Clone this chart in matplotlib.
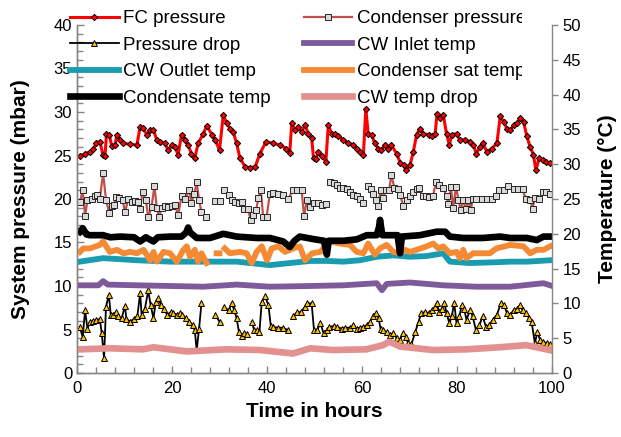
import numpy as np
import matplotlib
matplotlib.use("Agg")
import matplotlib.pyplot as plt
from matplotlib.ticker import MultipleLocator
from matplotlib.transforms import Bbox, TransformedBbox

plt.rcParams['font.family'] = ['Liberation Sans', 'DejaVu Sans']

# ---------------- data ----------------
fc_hours = [0.6,1.7,2.7,3.4,4.0,4.8,5.5,5.9,6.2,6.8,
            7.3,8.0,8.4,9.1,9.7,11.2,12.6,13.3,13.8,14.7,
            15.4,16.1,16.8,17.5,18.5,19.2,19.9,20.6,21.3,22.0,
            22.7,23.4,24.1,24.8,25.5,26.6,27.3,28.4,29.1,30.0,
            30.8,31.5,32.2,32.9,33.6,34.3,35.4,36.4,37.5,38.5,
            39.8,41.3,42.7,44.1,44.8,45.2,45.9,46.6,47.3,48.0,
            48.7,49.4,49.8,50.3,50.8,51.5,52.4,52.9,53.6,54.3,
            55.0,56.1,57.1,58.2,58.9,59.6,60.3,60.8,61.3,62.0,
            62.7,63.4,64.1,64.8,65.5,66.2,67.3,68.1,68.8,69.3,
            70.1,70.8,71.5,72.2,72.9,74.0,74.7,75.4,75.8,76.4,
            77.1,77.8,78.4,78.9,79.9,80.6,81.7,82.7,83.4,84.1,
            84.8,85.5,86.3,87.3,88.4,89.1,89.8,90.5,91.2,91.9,
            92.6,93.3,94.0,94.7,95.4,96.1,96.6,97.3,98.0,98.7,
            99.6]
fc_pressure = [24.9,25.2,25.4,25.7,26.4,26.6,25.0,24.9,27.5,27.4,
               26.1,26.2,27.4,26.8,26.4,26.3,26.2,28.3,28.2,27.4,
               27.9,27.9,26.8,26.6,26.4,25.6,26.2,26.0,25.1,27.4,
               26.8,26.2,25.2,24.7,26.4,27.5,28.4,27.4,26.8,25.6,
               29.7,28.7,28.1,27.7,26.4,24.7,23.7,23.6,23.7,25.2,
               26.6,26.4,26.2,25.8,25.3,28.7,27.9,28.3,27.7,28.5,
               27.5,27.0,24.7,24.6,25.4,24.9,24.3,28.5,27.5,27.5,
               27.2,26.8,26.4,26.2,25.8,25.4,25.1,30.4,27.5,27.4,
               26.4,25.8,25.6,26.2,25.8,26.2,25.2,24.1,23.9,23.3,
               23.9,25.4,27.4,28.1,27.5,27.4,27.2,27.5,29.8,29.3,
               29.7,27.5,26.2,27.4,27.5,26.8,26.8,26.6,26.2,25.2,
               26.0,26.4,25.4,25.8,26.4,29.5,28.9,28.1,27.9,28.5,
               28.7,29.3,28.9,27.2,26.0,25.1,23.3,24.7,24.5,24.3,
               24.1]

cond_hours = [0.6,1.2,1.7,2.2,3.1,3.8,4.3,4.8,5.5,6.1,
              6.8,7.3,7.8,8.2,8.9,9.6,10.1,10.8,11.5,12.2,
              12.9,13.3,13.8,14.5,15.0,15.7,16.3,16.8,17.3,17.8,
              18.5,19.2,19.9,20.6,21.3,22.0,22.7,23.6,24.1,24.7,
              25.2,25.7,26.2,27.2,28.2,29.1,30.0,30.5,31.0,31.9,
              32.6,33.3,34.0,34.7,35.2,35.9,36.6,37.1,37.7,38.2,
              38.7,39.2,39.9,40.6,41.3,42.4,43.4,44.5,45.4,46.4,
              47.3,47.8,48.4,49.1,49.8,50.8,51.5,52.4,52.9,53.3,
              54.0,54.7,55.4,56.1,56.8,57.5,58.2,58.9,59.6,60.3,
              60.8,61.3,61.9,62.4,62.9,63.4,63.9,64.4,65.1,65.7,
              66.2,66.8,67.5,68.0,68.7,69.4,70.1,70.8,71.5,72.1,
              72.8,73.5,74.2,74.9,75.6,76.3,77.1,77.8,78.2,78.7,
              79.2,79.8,80.3,80.8,81.3,81.9,82.4,82.9,83.3,84.1,
              85.2,86.3,87.3,88.2,88.9,89.8,90.8,91.9,92.9,93.8,
              94.5,95.4,95.9,96.4,97.3,98.0,98.8,99.6]
cond_pressure = [19.6,21.0,18.0,19.9,20.0,20.3,20.5,20.0,23.0,19.9,
                 18.4,19.2,19.3,20.2,20.1,19.9,18.5,20.0,19.7,19.8,
                 19.7,18.9,20.8,19.9,17.9,19.1,21.5,19.0,17.9,19.0,
                 19.2,19.1,19.2,19.3,18.2,20.3,20.0,21.0,19.5,20.6,
                 21.9,19.9,18.5,17.9,None,19.8,19.8,None,21.0,20.5,
                 19.9,19.7,19.5,19.7,18.9,18.9,17.6,18.2,18.7,20.1,
                 21.0,17.9,17.9,20.6,20.7,20.6,20.5,20.0,21.0,21.0,
                 21.0,18.0,19.9,19.1,19.5,19.5,19.3,19.4,None,22.0,
                 21.8,21.6,21.3,21.3,21.1,20.8,20.5,20.3,20.0,19.5,
                 None,21.5,21.1,20.6,19.9,19.2,21.0,20.1,21.0,21.0,
                 22.8,21.3,21.2,20.5,19.2,19.9,20.3,20.8,21.2,21.3,
                 20.3,20.3,20.2,20.3,21.9,21.6,21.3,20.3,19.4,21.4,
                 19.0,21.4,19.9,18.7,19.9,18.8,19.9,18.7,20.0,20.0,
                 20.0,20.0,20.0,20.3,21.0,21.0,21.5,21.2,21.1,21.1,
                 20.0,19.9,18.9,20.1,20.0,20.8,20.8,20.6]

dp_hours = [0.6,1.2,1.7,2.2,2.7,3.4,4.1,4.8,5.2,5.7,
            6.1,6.7,7.1,7.6,8.2,8.7,9.4,10.1,10.4,11.2,
            11.9,12.7,13.3,13.6,14.3,15.0,15.5,16.1,16.6,17.1,
            17.7,18.3,19.0,19.7,20.3,21.0,21.7,22.2,22.9,23.6,
            24.4,24.8,25.2,25.7,26.2,27.5,29.1,30.0,30.5,30.9,
            31.9,32.6,33.1,33.6,34.1,34.7,35.2,35.7,36.2,36.8,
            37.3,37.8,38.4,38.9,39.6,40.3,40.8,41.3,42.4,43.4,
            44.5,45.0,45.5,46.3,47.1,48.0,48.4,49.4,49.9,50.6,
            51.2,51.9,52.6,53.1,54.0,54.8,55.7,56.4,57.5,58.2,
            58.9,59.6,60.3,61.0,61.7,62.4,62.9,63.5,63.9,64.5,
            65.2,65.9,66.6,67.3,68.0,68.6,69.3,69.7,70.4,71.2,
            71.9,72.5,73.3,74.0,74.7,75.4,75.7,76.3,76.8,77.3,
            77.8,78.4,78.9,79.4,79.9,80.5,81.0,81.5,82.0,82.7,
            83.3,84.0,84.7,85.4,86.1,86.8,87.5,88.4,89.3,89.9,
            90.5,91.2,91.9,92.6,93.3,93.8,94.5,95.2,95.7,96.4,
            96.9,97.5,98.2,98.9,99.6]
pressure_drop = [5.3,4.1,7.2,5.1,5.9,6.0,6.1,6.2,4.6,1.7,
                 7.6,9.0,6.7,6.7,7.0,6.5,6.3,7.7,6.2,5.9,
                 6.2,6.5,9.2,6.7,7.4,9.5,7.8,6.3,8.2,8.6,
                 7.8,7.3,6.7,7.0,6.9,6.7,6.9,6.7,6.3,5.9,
                 5.5,4.9,2.6,5.1,8.0,None,6.7,5.9,None,7.6,
                 7.2,8.0,7.2,6.3,4.7,4.2,4.6,4.5,None,5.9,
                 4.9,4.9,4.7,8.2,8.8,7.8,5.4,5.3,5.2,5.2,
                 4.9,None,6.5,7.0,7.0,7.6,8.0,8.0,4.9,4.9,
                 5.8,4.6,4.9,5.3,5.4,5.3,5.1,5.2,5.2,5.5,
                 5.1,5.2,5.3,5.5,5.9,6.5,6.9,6.3,5.1,4.9,
                 4.7,4.4,4.6,4.0,3.8,4.6,4.1,3.4,3.3,4.7,
                 5.9,6.9,7.0,6.9,7.2,7.6,8.0,7.0,7.4,8.1,
                 6.9,5.7,6.5,8.1,5.7,6.5,7.8,7.4,6.1,7.2,
                 6.5,4.9,5.5,6.5,5.3,5.5,6.1,6.7,8.1,7.8,
                 6.9,6.7,7.2,7.4,7.8,7.2,6.9,6.3,5.9,3.4,
                 4.7,3.8,3.6,3.4,3.3]

inlet_hours = [0.6,4.5,5.5,6.5,12.6,19.6,26.6,33.6,40.6,49.1,
               56.1,63.1,64.2,65.2,70.1,77.1,84.1,91.2,98.2,99.6]
cw_inlet_temp = [12.6,12.6,13.2,12.7,12.6,12.5,12.4,12.7,12.4,12.5,
                 12.6,12.9,11.9,12.8,13.0,12.6,12.4,12.4,12.9,12.6]

outlet_hours = [0.6,5.5,12.6,19.6,26.6,33.6,40.6,49.1,52.6,56.1,
                59.6,63.1,66.6,70.1,73.6,77.1,78.5,82.7,87.6,91.2,
                94.7,99.6]
cw_outlet_temp = [16.0,16.5,16.2,16.0,16.0,16.0,15.5,16.1,16.1,16.0,
                  16.2,16.7,16.9,16.7,16.8,17.2,16.0,15.8,15.9,16.0,
                  16.0,16.2]

sat_hours = [0.6,1.3,2.7,4.8,5.5,6.9,8.4,9.8,11.2,12.6,
             14.0,15.4,16.1,16.8,18.2,19.6,21.0,22.4,23.1,23.8,
             24.8,25.5,26.2,27.3,28.3,29.4,30.0,30.5,31.1,32.2,
             34.3,35.7,36.8,37.8,38.9,40.0,41.0,42.4,43.8,45.5,
             46.9,48.0,49.5,51.2,53.3,55.4,57.5,58.9,60.3,61.3,
             62.7,63.8,65.2,66.6,68.0,69.0,70.1,71.5,73.6,75.0,
             76.1,77.1,78.5,79.9,80.6,81.3,82.0,83.4,84.8,86.9,
             88.3,91.2,94.0,95.4,96.8,98.2,99.6]
cond_sat_temp = [17.4,17.9,17.9,18.4,18.9,17.4,17.7,17.2,17.4,17.2,
                 17.7,16.2,17.4,16.0,17.4,17.2,16.0,17.7,18.2,16.7,
                 17.7,16.0,17.2,15.8,None,17.2,17.2,None,17.9,17.2,
                 17.4,17.2,15.8,17.4,18.2,16.2,17.9,18.2,17.4,17.9,
                 18.2,16.2,17.2,17.4,18.9,18.6,18.4,17.4,17.2,18.6,
                 17.0,17.9,18.4,17.4,17.2,17.7,17.4,17.7,18.2,18.6,
                 17.9,18.2,17.2,17.4,16.5,17.7,16.5,17.2,17.2,17.2,
                 17.9,18.4,18.2,17.2,17.7,17.7,18.2]

condensate_hours = [0.6,1.2,2.0,2.7,5.5,7.0,9.1,12.0,13.3,14.5,
                    16.1,17.0,19.6,22.0,23.0,23.4,23.8,25.2,28.0,30.8,
                    33.6,37.8,40.6,43.4,44.8,45.8,46.9,50.1,52.0,52.6,
                    53.0,56.1,58.9,61.0,63.1,63.6,63.8,64.0,64.3,67.5,
                    68.0,68.4,72.2,75.7,77.5,78.5,81.3,85.5,89.1,91.2,
                    94.7,96.8,98.2,99.6]
condensate_temp = [20.3,20.8,19.9,19.8,19.8,19.5,19.6,19.5,18.9,19.5,
                   18.9,19.5,19.6,19.6,20.2,20.9,20.2,19.4,19.4,20.0,
                   19.6,19.4,19.4,18.9,18.1,19.0,19.6,19.2,19.0,17.0,
                   19.0,19.0,19.2,19.8,19.8,21.0,22.0,21.0,19.8,19.8,
                   17.2,19.6,19.8,20.3,20.3,19.6,19.4,19.4,19.6,19.4,
                   19.4,19.1,19.6,19.6]

drop_hours = [0.6,6.9,13.9,16.1,23.1,31.5,38.5,45.5,49.1,53.9,
              60.9,64.4,65.8,68.0,75.0,82.0,89.0,94.6,99.5]
cw_temp_drop = [3.4,3.55,3.4,3.7,3.1,3.4,3.3,2.8,3.55,3.3,
                3.4,4.0,4.5,3.8,3.3,3.4,3.7,4.0,3.3]

x_label = "Time in hours"
y_label = "System pressure (mbar)"
y2_label = "Temperature (\u00b0C)"


def arr(v):
    return np.array([np.nan if a is None else a for a in v], dtype=float)


# ---------------- figure ----------------
fig = plt.figure(figsize=(6.21, 4.37), dpi=100)
ax = fig.add_axes([77/621, 1-373/437, (552-77)/621, (373-25)/437])
ax2 = ax.twinx()

h1, = ax.plot(fc_hours, arr(fc_pressure), color='#FF0000', lw=2.2,
              marker='D', ms=3.2, mfc='#FF0000', mec='black', mew=0.7,
              label='FC pressure')
h2, = ax.plot(cond_hours, arr(cond_pressure), color='#C0504D', lw=1.6,
              marker='s', ms=4.2, mfc='#D9D9D9', mec='#262626', mew=0.7,
              label='Condenser pressure')
h3, = ax.plot(dp_hours, arr(pressure_drop), color='black', lw=1.3,
              marker='^', ms=4.2, mfc='#FFC000', mec='black', mew=0.7,
              label='Pressure drop')

h4, = ax2.plot(inlet_hours, cw_inlet_temp, color='#7E5A9B', lw=4.2,
               label='CW Inlet temp', solid_joinstyle='round')
h5, = ax2.plot(outlet_hours, cw_outlet_temp, color='#1A9CB0', lw=4.2,
               label='CW Outlet temp', solid_joinstyle='round')
h6, = ax2.plot(sat_hours, arr(cond_sat_temp), color='#F58A35', lw=4.2,
               label='Condenser sat temp', solid_joinstyle='round')
h7, = ax2.plot(condensate_hours, condensate_temp, color='black', lw=4.8,
               label='Condensate temp', solid_joinstyle='round')
h8, = ax2.plot(drop_hours, cw_temp_drop, color='#E39190', lw=4.8,
               label='CW temp drop', solid_joinstyle='round')

ax.set_xlim(0, 100)
ax.set_ylim(0, 40)
ax2.set_ylim(0, 50)

gray = '#868686'
for a in (ax, ax2):
    for s in a.spines.values():
        s.set_color(gray)
        s.set_linewidth(1.0)
    a.spines['top'].set_visible(False)
ax.spines['right'].set_visible(False)

ax.xaxis.set_major_locator(MultipleLocator(20))
ax.xaxis.set_minor_locator(MultipleLocator(4))
ax.yaxis.set_major_locator(MultipleLocator(5))
ax.yaxis.set_minor_locator(MultipleLocator(1))
ax2.yaxis.set_major_locator(MultipleLocator(5))

ax.tick_params(axis='both', which='both', direction='in', color=gray,
               labelsize=12, width=1.0)
ax.tick_params(axis='both', which='major', length=5)
ax.tick_params(axis='both', which='minor', length=4)
ax.tick_params(axis='x', pad=6)
ax2.tick_params(axis='y', which='major', direction='out', color=gray,
                labelsize=12, length=4, width=1.0)

ax.set_xlabel(x_label, fontsize=15, fontweight='bold', labelpad=4)
ax.set_ylabel(y_label, fontsize=15, fontweight='bold', labelpad=17)
ax2.set_ylabel(y2_label, fontsize=15, fontweight='bold', labelpad=12)

handles = [h1, h3, h5, h7, h2, h4, h6, h8]
leg = fig.legend(handles=handles, labels=[h.get_label() for h in handles],
                 loc='upper left', bbox_to_anchor=(70/621, 1-10/437),
                 ncol=2, frameon=False, fontsize=13.5, borderpad=0,
                 borderaxespad=0, labelspacing=0.5, handlelength=2.6,
                 handletextpad=0.25, columnspacing=1.73)
clip = TransformedBbox(Bbox.from_extents(0, 0, 522/621, 1), fig.transFigure)
for t in leg.get_texts():
    t.set_clip_on(True)
    t.set_clip_box(clip)

fig.savefig('out.png', dpi=100)
